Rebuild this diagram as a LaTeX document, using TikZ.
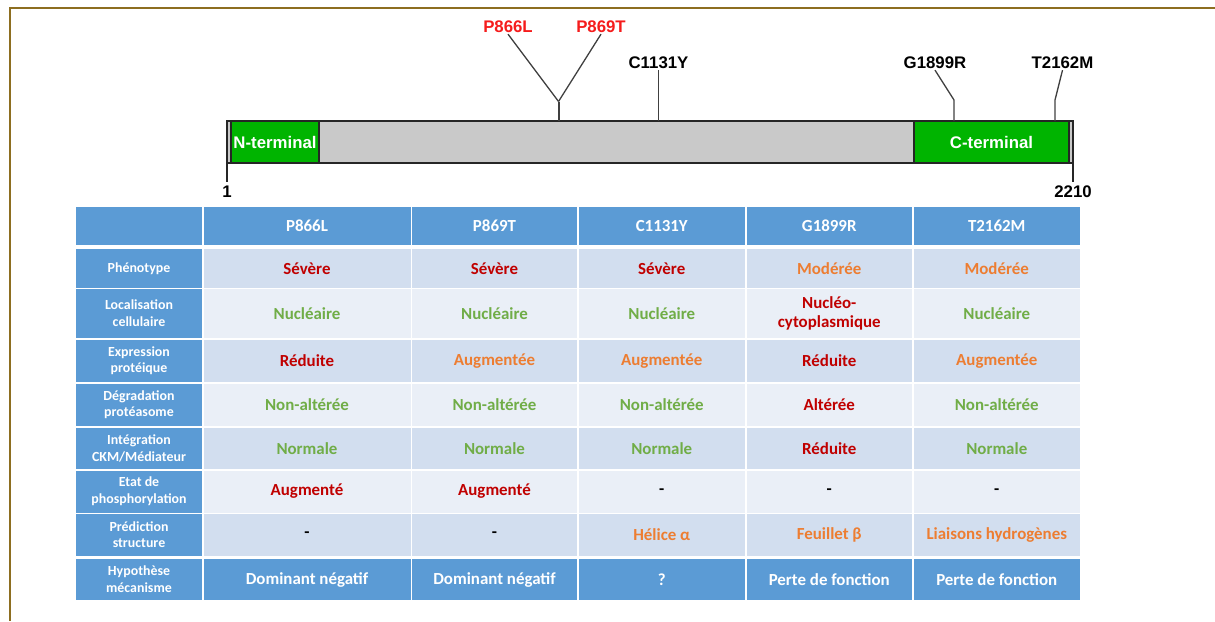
\documentclass[tikz,border=0pt]{standalone}
\usepackage{fontspec}
\setmainfont{Carlito}
\newfontfamily\arialf{Liberation Sans}
\definecolor{hdblue}{HTML}{5B9BD5}
\definecolor{lightA}{HTML}{D2DEEF}
\definecolor{lightB}{HTML}{EAEFF7}
\definecolor{tred}{HTML}{C00000}
\definecolor{tor}{HTML}{ED7D31}
\definecolor{tgr}{HTML}{70AD47}
\definecolor{mred}{HTML}{F51C1C}
\definecolor{bargray}{HTML}{C9C9C9}
\definecolor{termgreen}{HTML}{00B400}
\definecolor{brdcol}{HTML}{8D6E20}
\definecolor{conncol}{HTML}{404040}
\begin{document}
\begin{tikzpicture}[x=1pt,y=-1pt,
  cell/.style={inner sep=0pt, align=center, font=\fontsize{16.9}{19}\selectfont\bfseries},
  hd/.style={cell, fill=hdblue, text=white},
  la/.style={cell, fill=lightA},
  lb/.style={cell, fill=lightB},
  lab/.style={hd, font=\fontsize{13.9}{16.8}\selectfont\bfseries},
  k0/.style={minimum width=126pt}, k1/.style={minimum width=207pt},
  k2/.style={minimum width=165pt}, k3/.style={minimum width=166.5pt},
  k4/.style={minimum width=165.5pt}, k5/.style={minimum width=166.5pt},
  q0/.style={minimum height=38pt}, q1/.style={minimum height=38.5pt},
  q2/.style={minimum height=49pt}, q3/.style={minimum height=42.5pt},
  q4/.style={minimum height=42.5pt}, q5/.style={minimum height=41.5pt},
  q6/.style={minimum height=42pt}, q7/.style={minimum height=41.5pt},
  q8/.style={minimum height=41pt},
  cr/.style={text=tred}, co/.style={text=tor}, cg/.style={text=tgr}, ck/.style={text=black},
  mut/.style={inner sep=1pt, font=\arialf\fontsize{16.8}{19}\selectfont\bfseries},
  conn/.style={draw=conncol, line width=1.3pt},
  barline/.style={draw=black!85, line width=1.4pt},
  term/.style={fill=termgreen, draw=black!85, line width=1.4pt, inner sep=0pt, text=white, font=\arialf\fontsize{16.8}{19}\selectfont\bfseries},
  brd/.style={draw=brdcol, line width=2pt}
]
\useasboundingbox (0,0) rectangle (1215,621);
% frame
\draw[brd] (10,621) -- (10,8) -- (1215,8);

% protein bar
\draw[barline, fill=bargray] (227,121) rectangle (1073,163);
\node[term, minimum width=88pt, minimum height=42pt] (nterm) at (275,142) {N-terminal};
\node[term, minimum width=155pt, minimum height=42pt] (cterm) at (991.5,142) {C-terminal};

% ends
\coordinate (s1) at (227,163);
\coordinate (s1e) at (227,182);
\coordinate (s2) at (1073,163);
\coordinate (s2e) at (1073,182);
\draw[barline, line width=1.2pt] (s1) -- (s1e);
\draw[barline, line width=1.2pt] (s2) -- (s2e);
\node[mut] (one) at (227,192) {1};
\node[mut] (end) at (1073,192) {2210};

% mutations
\node[mut, text=mred] (p866) at (508,27) {P866L};
\node[mut, text=mred] (p869) at (601,27) {P869T};
\coordinate (fork) at (558.5,101.5);
\coordinate (b866) at (558.5,121);
\draw[conn] (p866.south) -- (fork);
\draw[conn] (p869.south) -- (fork);
\draw[conn, line width=2pt] (fork) -- (b866);

\node[mut] (c1131) at (658.5,63) {C1131Y};
\coordinate (b1131) at (658.5,121);
\draw[conn] (c1131.south) -- (b1131);

\node[mut] (g1899) at (935,63) {G1899R};
\coordinate (k1899) at (954,100);
\coordinate (b1899) at (954,121);
\draw[conn] (g1899.south) -- (k1899) -- (b1899);

\node[mut] (t2162) at (1062.5,63) {T2162M};
\coordinate (k2162) at (1055,100);
\coordinate (b2162) at (1055,121);
\draw[conn] (t2162.south) -- (k2162) -- (b2162);

% table header
\node[hd,k0,q0] (h0) at (139,226) {};
\node[hd,k1,q0] (h1) at (307,226) {P866L};
\node[hd,k2,q0] (h2) at (494.5,226) {P869T};
\node[hd,k3,q0] (h3) at (661.75,226) {C1131Y};
\node[hd,k4,q0] (h4) at (829.25,226) {G1899R};
\node[hd,k5,q0] (h5) at (996.75,226) {T2162M};

% row 1
\node[lab,k0,q1] (r1c0) at (139,268.25) {Phénotype};
\node[la,k1,q1,cr] (r1c1) at (307,268.25) {Sévère};
\node[la,k2,q1,cr] (r1c2) at (494.5,268.25) {Sévère};
\node[la,k3,q1,cr] (r1c3) at (661.75,268.25) {Sévère};
\node[la,k4,q1,co] (r1c4) at (829.25,268.25) {Modérée};
\node[la,k5,q1,co] (r1c5) at (996.75,268.25) {Modérée};

% row 2
\node[lab,k0,q2] (r2c0) at (139,313.5) {Localisation\\cellulaire};
\node[lb,k1,q2,cg] (r2c1) at (307,313.5) {Nucléaire};
\node[lb,k2,q2,cg] (r2c2) at (494.5,313.5) {Nucléaire};
\node[lb,k3,q2,cg] (r2c3) at (661.75,313.5) {Nucléaire};
\node[lb,k4,q2,cr] (r2c4) at (829.25,313.5) {Nucléo-\\cytoplasmique};
\node[lb,k5,q2,cg] (r2c5) at (996.75,313.5) {Nucléaire};

% row 3
\node[lab,k0,q3] (r3c0) at (139,360.75) {Expression\\protéique};
\node[la,k1,q3,cr] (r3c1) at (307,360.75) {Réduite};
\node[la,k2,q3,co] (r3c2) at (494.5,360.75) {Augmentée};
\node[la,k3,q3,co] (r3c3) at (661.75,360.75) {Augmentée};
\node[la,k4,q3,cr] (r3c4) at (829.25,360.75) {Réduite};
\node[la,k5,q3,co] (r3c5) at (996.75,360.75) {Augmentée};

% row 4
\node[lab,k0,q4] (r4c0) at (139,404.75) {Dégradation\\protéasome};
\node[lb,k1,q4,cg] (r4c1) at (307,404.75) {Non-altérée};
\node[lb,k2,q4,cg] (r4c2) at (494.5,404.75) {Non-altérée};
\node[lb,k3,q4,cg] (r4c3) at (661.75,404.75) {Non-altérée};
\node[lb,k4,q4,cr] (r4c4) at (829.25,404.75) {Altérée};
\node[lb,k5,q4,cg] (r4c5) at (996.75,404.75) {Non-altérée};

% row 5
\node[lab,k0,q5] (r5c0) at (139,448.25) {Intégration\\CKM/Médiateur};
\node[la,k1,q5,cg] (r5c1) at (307,448.25) {Normale};
\node[la,k2,q5,cg] (r5c2) at (494.5,448.25) {Normale};
\node[la,k3,q5,cg] (r5c3) at (661.75,448.25) {Normale};
\node[la,k4,q5,cr] (r5c4) at (829.25,448.25) {Réduite};
\node[la,k5,q5,cg] (r5c5) at (996.75,448.25) {Normale};

% row 6
\node[lab,k0,q6] (r6c0) at (139,491.5) {Etat de\\phosphorylation};
\node[lb,k1,q6,cr] (r6c1) at (307,491.5) {Augmenté};
\node[lb,k2,q6,cr] (r6c2) at (494.5,491.5) {Augmenté};
\node[lb,k3,q6,ck] (r6c3) at (661.75,491.5) {-};
\node[lb,k4,q6,ck] (r6c4) at (829.25,491.5) {-};
\node[lb,k5,q6,ck] (r6c5) at (996.75,491.5) {-};

% row 7
\node[lab,k0,q7] (r7c0) at (139,534.75) {Prédiction\\structure};
\node[la,k1,q7,ck] (r7c1) at (307,534.75) {-};
\node[la,k2,q7,ck] (r7c2) at (494.5,534.75) {-};
\node[la,k3,q7,co] (r7c3) at (661.75,534.75) {Hélice α};
\node[la,k4,q7,co] (r7c4) at (829.25,534.75) {Feuillet β};
\node[la,k5,q7,co] (r7c5) at (996.75,534.75) {Liaisons hydrogènes};

% row 8
\node[lab,k0,q8] (r8c0) at (139,579.5) {Hypothèse\\mécanisme};
\node[hd,k1,q8] (r8c1) at (307,579.5) {Dominant négatif};
\node[hd,k2,q8] (r8c2) at (494.5,579.5) {Dominant négatif};
\node[hd,k3,q8] (r8c3) at (661.75,579.5) {?};
\node[hd,k4,q8] (r8c4) at (829.25,579.5) {Perte de fonction};
\node[hd,k5,q8] (r8c5) at (996.75,579.5) {Perte de fonction};
\end{tikzpicture}
\end{document}
